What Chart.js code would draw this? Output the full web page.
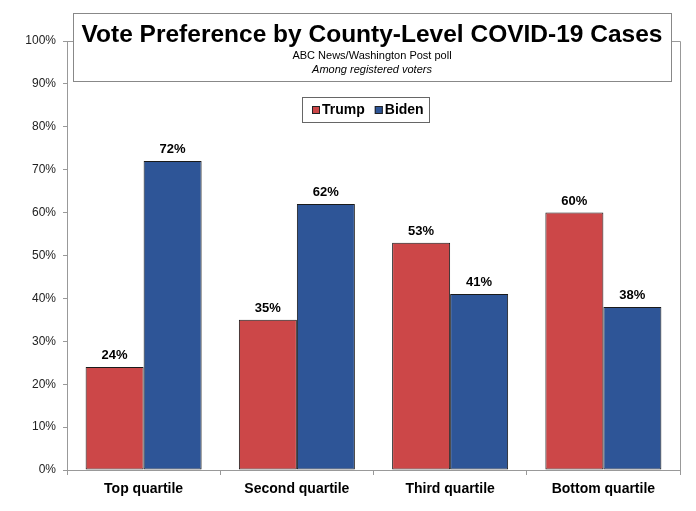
<!DOCTYPE html>
<html>
<head>
<meta charset="utf-8">
<script src="https://cdn.jsdelivr.net/npm/chart.js@4"></script>
<style>
  html, body { margin: 0; padding: 0; background: #fff; }
  #wrap { width: 696px; height: 511px; }
</style>
</head>
<body>
<div id="wrap"><canvas id="chart"></canvas></div>
<script>
const categories = ["Top quartile", "Second quartile", "Third quartile", "Bottom quartile"];
const trumpValues = [24, 35, 53, 60];
const bidenValues = [72, 62, 41, 38];
const seriesNames = ["Trump", "Biden"];
const seriesColors = ["#CC4748", "#2E5597"];
const yTicks = [0, 10, 20, 30, 40, 50, 60, 70, 80, 90, 100];

const titleText = "Vote Preference by County-Level COVID-19 Cases";
const subtitleText = "ABC News/Washington Post poll";
const noteText = "Among registered voters";

const FONT = "'Liberation Sans', Arial, sans-serif";

// frame, title box, legend box and value labels
const decor = {
  id: "decor",
  beforeDatasetsDraw(chart) {
    const { ctx, chartArea: a } = chart;
    ctx.save();
    ctx.strokeStyle = "#999";
    ctx.lineWidth = 1;
    ctx.beginPath();
    ctx.moveTo(a.left, a.top + 0.5);
    ctx.lineTo(a.right + 0.5, a.top + 0.5);
    ctx.lineTo(a.right + 0.5, a.bottom);
    ctx.stroke();
    ctx.restore();
  },
  afterDatasetsDraw(chart) {
    const { ctx } = chart;
    ctx.save();

    // value labels
    ctx.fillStyle = "#000";
    ctx.font = "bold 13px " + FONT;
    ctx.textAlign = "center";
    ctx.textBaseline = "bottom";
    chart.data.datasets.forEach((ds, di) => {
      chart.getDatasetMeta(di).data.forEach((bar, i) => {
        ctx.fillText(ds.data[i] + "%", bar.x, bar.y - 5);
      });
    });

    // title box
    ctx.fillStyle = "#fff";
    ctx.fillRect(73, 13, 598, 68);
    ctx.strokeStyle = "#888";
    ctx.strokeRect(73.5, 13.5, 598, 68);
    ctx.fillStyle = "#000";
    ctx.textBaseline = "alphabetic";
    ctx.font = "bold 24.5px " + FONT;
    ctx.fillText(titleText, 372, 42);
    ctx.font = "11px " + FONT;
    ctx.fillText(subtitleText, 372, 59);
    ctx.font = "italic 11px " + FONT;
    ctx.fillText(noteText, 372, 73);

    // legend box
    ctx.fillStyle = "#fff";
    ctx.fillRect(302, 97, 127, 25);
    ctx.strokeStyle = "#666";
    ctx.strokeRect(302.5, 97.5, 127, 25);
    ctx.font = "bold 14px " + FONT;
    ctx.textAlign = "left";
    ctx.textBaseline = "middle";
    let x = 312;
    chart.data.datasets.forEach((ds) => {
      ctx.fillStyle = ds.backgroundColor;
      ctx.fillRect(x, 106, 8, 8);
      ctx.strokeStyle = "#222";
      ctx.strokeRect(x + 0.5, 106.5, 7, 7);
      ctx.fillStyle = "#000";
      ctx.fillText(ds.label, x + 10, 110.5);
      x += ctx.measureText(ds.label).width + 20;
    });
    ctx.restore();
  },
};

new Chart(document.getElementById("chart"), {
  type: "bar",
  data: {
    labels: categories,
    datasets: [
      {
        label: seriesNames[0],
        data: trumpValues,
        backgroundColor: seriesColors[0],
        borderColor: "#1a1a1a",
        borderWidth: 1,
        borderSkipped: false,
      },
      {
        label: seriesNames[1],
        data: bidenValues,
        backgroundColor: seriesColors[1],
        borderColor: "#1a1a1a",
        borderWidth: 1,
        borderSkipped: false,
      },
    ],
  },
  options: {
    responsive: true,
    maintainAspectRatio: false,
    animation: false,
    datasets: {
      bar: { categoryPercentage: 0.757, barPercentage: 1 },
    },
    layout: { padding: { top: 41, right: 16, left: 0, bottom: 0 } },
    plugins: {
      legend: { display: false },
      tooltip: { enabled: false },
    },
    scales: {
      x: {
        grid: {
          offset: true,
          drawOnChartArea: false,
          tickLength: 5,
          color: "#999",
        },
        border: { color: "#999" },
        ticks: {
          color: "#000",
          font: { family: FONT, size: 14, weight: "bold" },
          padding: 6,
        },
        afterFit(scale) { scale.height = 41; },
      },
      y: {
        min: 0,
        max: 100,
        afterBuildTicks(scale) { scale.ticks = yTicks.map((v) => ({ value: v })); },
        grid: {
          drawOnChartArea: false,
          tickLength: 4,
          color: "#999",
        },
        border: { color: "#999" },
        ticks: {
          color: "#222",
          font: { family: FONT, size: 12 },
          padding: 7,
          callback: (v) => v + "%",
        },
        afterFit(scale) { scale.width = 67; },
      },
    },
  },
  plugins: [decor],
});
</script>
</body>
</html>
